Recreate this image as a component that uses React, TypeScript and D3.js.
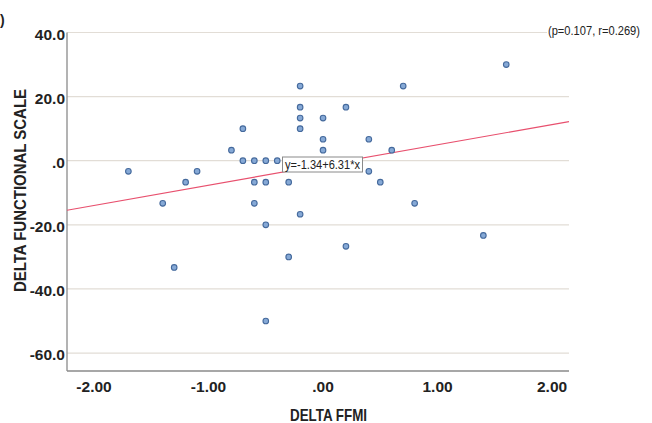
import React from "react";
import * as d3 from "d3";

// Change in fat-free mass index vs change in functional scale
const deltaFFMI = [
  -1.7, -1.4, -1.3, -1.2, -1.1, -0.8, -0.7, -0.7, -0.6, -0.6, -0.6, -0.5,
  -0.5, -0.5, -0.5, -0.4, -0.3, -0.3, -0.2, -0.2, -0.2, -0.2, -0.2, 0.0,
  0.0, 0.0, 0.2, 0.2, 0.4, 0.4, 0.5, 0.6, 0.7, 0.8, 1.4, 1.6,
];
const deltaFunctional = [
  -3.3, -13.3, -33.3, -6.7, -3.3, 3.3, 10.0, 0.0, 0.0, -6.7, -13.3, 0.0,
  -6.7, -20.0, -50.0, 0.0, -6.7, -30.0, 23.3, 16.7, 13.3, 10.0, -16.7, 13.3,
  6.7, 3.3, 16.7, -26.7, 6.7, -3.3, -6.7, 3.3, 23.3, -13.3, -23.3, 30.0,
];

const xTicks = [-2, -1, 0, 1, 2];
const yTicks = [40, 20, 0, -20, -40, -60];

// Fit line: y = intercept + slope * x
const intercept = -1.34;
const slope = 6.31;
const statsText = "(p=0.107, r=0.269)";

const W = 652;
const H = 423;
const plot = { left: 67, right: 569, top: 32.5, bottom: 371 };

const FONT = "'Liberation Sans', Arial, Helvetica, sans-serif";

const fmtX = (v: number) => (v === 0 ? ".00" : d3.format(".2f")(v).replace("−", "-"));
const fmtY = (v: number) => (v === 0 ? ".0" : d3.format(".1f")(v).replace("−", "-"));

export default function App() {
  const x = d3.scaleLinear().domain([-2.236, 2.148]).range([plot.left, plot.right]);
  const y = d3.scaleLinear().domain([-65.6, 40]).range([plot.bottom, plot.top]);

  const [x0, x1] = x.domain();
  const fitLine = d3
    .line<number>()
    .x((d) => x(d))
    .y((d) => y(intercept + slope * d))([x0, x1]);

  const points = deltaFFMI.map((v, i) => ({ x: v, y: deltaFunctional[i] }));

  return (
    <svg
      width={W}
      height={H}
      style={{ position: "absolute", left: 0, top: 0, background: "#fff" }}
      fontFamily={FONT}
    >
      <rect x={0} y={0} width={W} height={H} fill="#fff" />

      {/* panel tag (closing bracket) */}
      <text x={0} y={25} fontSize={14} fontWeight="bold" fill="#222">)</text>

      {/* horizontal grid */}
      {yTicks.map((t) => (
        <line
          key={`g${t}`}
          x1={plot.left}
          x2={plot.right}
          y1={y(t)}
          y2={y(t)}
          stroke="#e2ddd6"
          strokeWidth={1.2}
        />
      ))}

      {/* axes */}
      <line x1={plot.left} x2={plot.left} y1={plot.top} y2={plot.bottom} stroke="#8a8a8a" strokeWidth={1.3} />
      <line x1={plot.left} x2={plot.right} y1={plot.bottom} y2={plot.bottom} stroke="#8a8a8a" strokeWidth={1.3} />

      {/* y tick labels */}
      {yTicks.map((t) => (
        <text
          key={`yl${t}`}
          x={plot.left - 2}
          y={y(t) + 7}
          textAnchor="end"
          fontSize={15.5}
          fontWeight="bold"
          fill="#222"
        >
          {fmtY(t)}
        </text>
      ))}

      {/* x tick labels */}
      {xTicks.map((t) => (
        <text
          key={`xl${t}`}
          x={x(t)}
          y={plot.bottom + 21}
          textAnchor="middle"
          fontSize={15.5}
          fontWeight="bold"
          fill="#222"
        >
          {fmtX(t)}
        </text>
      ))}

      {/* axis titles */}
      <text
        x={290}
        y={421}
        fontSize={16.5}
        fontWeight="bold"
        fill="#222"
        textLength={77}
        lengthAdjust="spacingAndGlyphs"
      >
        DELTA FFMI
      </text>
      <text
        transform={`translate(26, 292) rotate(-90)`}
        fontSize={16.5}
        fontWeight="bold"
        fill="#222"
        textLength={203}
        lengthAdjust="spacingAndGlyphs"
      >
        DELTA FUNCTIONAL SCALE
      </text>

      {/* regression line */}
      <path d={fitLine ?? ""} fill="none" stroke="#e8506e" strokeWidth={1.2} />

      {/* data points */}
      {points.map((p, i) => (
        <circle
          key={i}
          cx={x(p.x)}
          cy={y(p.y)}
          r={2.8}
          fill="#86a9d6"
          stroke="#44699c"
          strokeWidth={1.1}
        />
      ))}

      {/* equation label */}
      <g>
        <rect x={282.5} y={157} width={80} height={15} fill="#fff" stroke="#8a8a8a" strokeWidth={1} />
        <text
          x={285}
          y={169}
          fontSize={13.5}
          fill="#222"
          textLength={75}
          lengthAdjust="spacingAndGlyphs"
        >
          y=-1.34+6.31*x
        </text>
      </g>

      {/* statistics annotation */}
      <rect x={547} y={22} width={100} height={16} fill="#fff" />
      <text
        x={548}
        y={35}
        fontSize={13.5}
        fill="#222"
        textLength={92}
        lengthAdjust="spacingAndGlyphs"
      >
        {statsText}
      </text>
    </svg>
  );
}
